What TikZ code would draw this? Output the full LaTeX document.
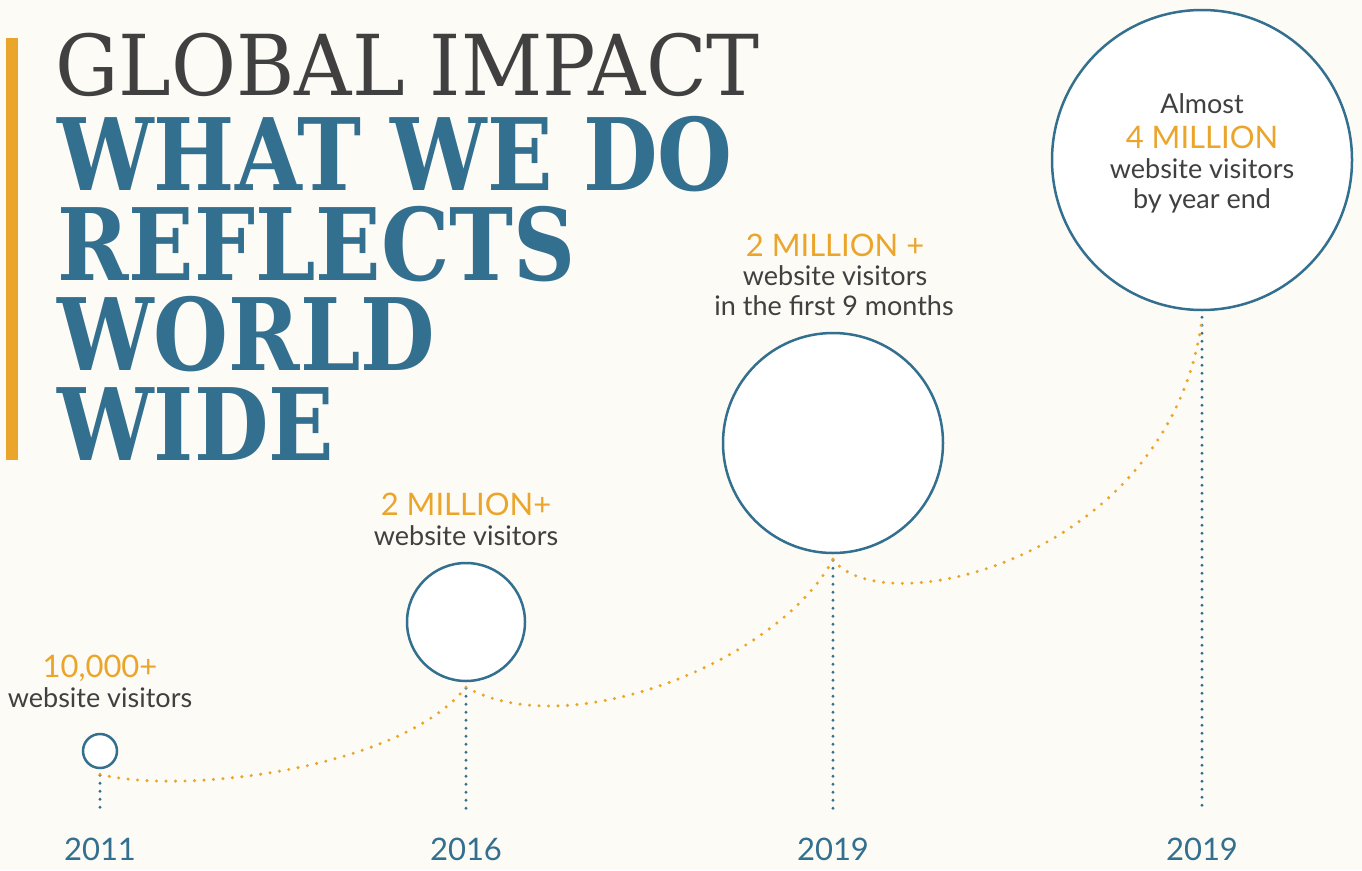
\documentclass[tikz,border=0pt]{standalone}
\usepackage{fontspec}
\setmainfont{Lato}
\newfontfamily\slablight{DejaVu Serif}[FakeStretch=0.945]
\newfontfamily\slabheavy{DejaVu Serif}[FakeStretch=0.86]
\definecolor{inkblue}{HTML}{33708F}
\definecolor{gold}{HTML}{EBA52A}
\definecolor{ink}{HTML}{404040}
\definecolor{paper}{HTML}{FDFBF6}
\tikzset{
  ring/.style={circle, draw=inkblue, line width=2.5pt, fill=white, inner sep=0pt},
  golddots/.style={gold, line width=3.4pt, line cap=round, dash pattern=on 0pt off 9.5pt},
  bluedots/.style={inkblue, line width=3.2pt, line cap=round, dash pattern=on 0pt off 8pt},
  num/.style={font=\fontsize{31}{31}\selectfont, text=gold, inner sep=0pt, anchor=base},
  txt/.style={font=\fontsize{27}{27}\selectfont, text=ink, inner sep=0pt, anchor=base},
  year/.style={font=\fontsize{31}{31}\selectfont, text=inkblue, inner sep=0pt, anchor=base},
  headline/.style={font=\fontsize{100}{90}\slabheavy\bfseries, text=inkblue, inner sep=0pt,
    align=left, anchor=base west}
}
\begin{document}
\begin{tikzpicture}[x=1pt, y=-1pt]
\fill[paper] (0,0) rectangle (1362,870);
\useasboundingbox (0,0) rectangle (1362,870);
% title
\fill[gold] (6,38) rectangle (18,460);
\node[font=\fontsize{84}{84}\slablight, text=ink, inner sep=0pt, text height=61pt, text depth=0pt, anchor=base west] (kicker) at (55,95) {GLOBAL IMPACT};
\node[headline] (head) at (57,460) {WHAT WE DO\\REFLECTS\\WORLD\\WIDE};
% circles
\node[ring, minimum size=34pt] (c11) at (100,751) {};
\node[ring, minimum size=118pt] (c16) at (466,622) {};
\node[ring, minimum size=220pt] (c19) at (833,443) {};
\node[ring, minimum size=300pt] (c19b) at (1202,160) {};
% year ticks
\coordinate (t11) at (100,812);
\coordinate (t16) at (466,812);
\coordinate (t19) at (833,812);
\coordinate (t19b) at (1202,812);
\draw[bluedots] ([yshift=-6pt]c11.south) -- (t11);
\draw[bluedots] ([yshift=-6pt]c16.south) -- (t16);
\draw[bluedots] ([yshift=-6pt]c19.south) -- (t19);
\draw[bluedots] ([yshift=-6pt]c19b.south) -- (t19b);
% growth curve
\draw[golddots] ([yshift=-5pt]c11.south) .. controls (180,795) and (400,770) .. ([yshift=-5pt]c16.south);
\draw[golddots] ([yshift=-5pt]c16.south) .. controls (570,745) and (780,660) .. ([yshift=-5pt]c19.south);
\draw[golddots] ([yshift=-5pt]c19.south) .. controls (880,625) and (1170,560) .. ([yshift=-8pt]c19b.south);
% labels
\node[num] (n11) at (100,677) {10,000+};
\node[txt] (v11) at (100,707) {website visitors};
\node[num] (n16) at (466,515) {2 MILLION+};
\node[txt] (v16) at (466,545) {website visitors};
\node[num] (n19) at (835,256) {2 MILLION +};
\node[txt] (v19) at (835,285) {website visitors};
\node[txt] (m19) at (834,315) {in the first 9 months};
\node[txt] (a19b) at (1202,113) {Almost};
\node[num] (n19b) at (1202,148) {4 MILLION};
\node[txt] (v19b) at (1202,178) {website visitors};
\node[txt] (e19b) at (1202,208) {by year end};
% years
\node[year] (y11) at (100,860) {2011};
\node[year] (y16) at (466,860) {2016};
\node[year] (y19) at (833,860) {2019};
\node[year] (y19b) at (1202,860) {2019};
\end{tikzpicture}
\end{document}
